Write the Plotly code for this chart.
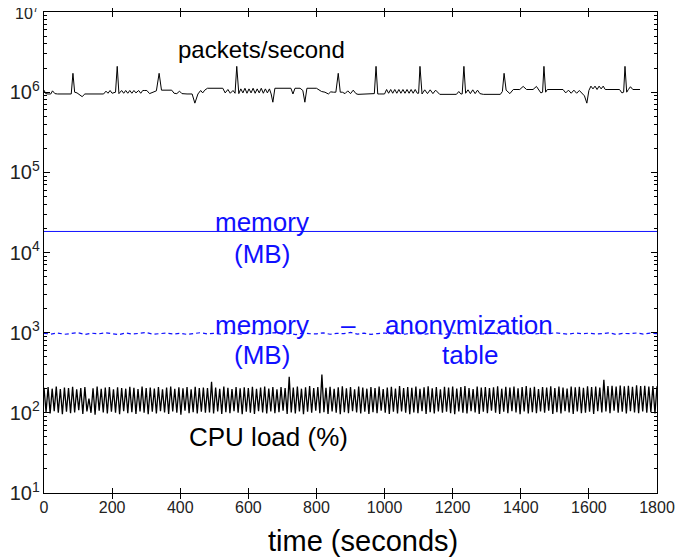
import plotly.graph_objects as go

# ---------------- data ----------------
# packets/second: polyline vertices (time s, packets/s)
pkt_t = [0, 5, 12, 20, 25, 32, 40, 80, 85, 90, 97, 104, 112, 120, 175, 182, 188, 194, 200, 210, 215, 220,
         228, 234, 240, 246, 252, 258, 264, 270, 278, 284, 290, 296, 302, 310, 330, 338, 345, 375, 382, 390,
         398, 405, 412, 420, 435, 443, 452, 460, 466, 472, 480, 487, 525, 532, 540, 547, 555, 561, 566, 572,
         578, 584, 590, 596, 602, 608, 614, 620, 626, 632, 638, 644, 650, 656, 662, 667, 672, 678, 725, 731,
         737, 743, 752, 760, 766, 772, 800, 815, 825, 835, 842, 850, 857, 864, 870, 876, 884, 892, 900, 908,
         916, 922, 966, 970, 975, 980, 986, 1000, 1006, 1012, 1018, 1024, 1030, 1036, 1042, 1048, 1054, 1060,
         1066, 1072, 1078, 1084, 1090, 1096, 1100, 1104, 1110, 1118, 1126, 1134, 1142, 1150, 1162, 1211, 1218,
         1224, 1228, 1233, 1238, 1245, 1252, 1259, 1266, 1273, 1280, 1290, 1340, 1346, 1351, 1357, 1368, 1378,
         1397, 1407, 1417, 1436, 1446, 1459, 1464, 1468, 1473, 1478, 1524, 1532, 1540, 1548, 1556, 1564, 1572,
         1580, 1587, 1594, 1600, 1606, 1612, 1618, 1624, 1630, 1636, 1642, 1648, 1656, 1664, 1690, 1697, 1702,
         1706, 1711, 1716, 1722, 1729, 1736, 1750]
pkt_v = [1.06e6, 0.96e6, 0.95e6, 0.95e6, 1.04e6, 0.96e6, 0.95e6, 0.95e6, 1.72e6, 1.0e6, 0.98e6, 0.93e6,
         0.88e6, 0.95e6, 0.95e6, 1.03e6, 0.97e6, 1.05e6, 0.97e6, 1.0e6, 2.1e6, 0.96e6,
         1.05e6, 0.97e6, 1.05e6, 0.97e6, 1.05e6, 0.97e6, 1.05e6, 0.98e6, 1.05e6, 0.97e6, 1.05e6, 1.05e6,
         1.05e6, 0.96e6, 1.04e6, 1.72e6, 1.06e6, 1.06e6, 0.97e6, 0.96e6,
         1.03e6, 0.96e6, 0.95e6, 0.95e6, 0.95e6, 0.73e6, 0.95e6, 1.05e6, 0.98e6, 1.06e6, 1.12e6, 1.12e6,
         1.12e6, 0.98e6, 1.08e6, 0.97e6, 1.05e6, 0.97e6, 2.1e6, 0.96e6,
         1.1e6, 0.98e6, 1.12e6, 0.97e6, 1.1e6, 0.98e6, 1.12e6, 0.97e6, 1.1e6, 0.98e6, 1.12e6, 0.97e6, 1.1e6,
         0.98e6, 1.1e6, 0.95e6, 0.75e6, 1.12e6, 1.12e6, 0.95e6,
         1.12e6, 1.12e6, 1.12e6, 1.05e6, 0.75e6, 1.12e6, 1.12e6, 1.02e6, 1.0e6, 0.95e6, 1.01e6, 1.0e6, 1.0e6,
         1.72e6, 1.0e6, 1.0e6, 0.96e6, 1.04e6, 0.96e6, 1.06e6,
         0.96e6, 0.94e6, 0.94e6, 0.96e6, 2.1e6, 0.95e6, 0.95e6, 0.95e6, 1.08e6, 0.97e6, 1.08e6, 0.97e6, 1.08e6,
         0.97e6, 1.08e6, 0.97e6, 1.08e6, 0.97e6,
         1.08e6, 0.97e6, 1.08e6, 0.97e6, 1.08e6, 0.97e6, 0.97e6, 2.1e6, 0.95e6, 1.07e6, 0.96e6, 1.07e6,
         0.96e6, 1.06e6, 0.94e6, 0.94e6, 1.02e6,
         0.95e6, 0.95e6, 2.1e6, 0.97e6, 1.07e6, 0.96e6, 1.07e6, 0.96e6, 1.06e6, 0.96e6, 0.94e6, 0.94e6,
         1.02e6, 1.72e6, 1.06e6, 0.96e6, 1.08e6,
         1.08e6, 1.18e6, 1.08e6, 1.08e6, 1.18e6, 0.98e6, 1.0e6, 2.1e6, 1.0e6, 1.08e6, 1.08e6, 0.98e6, 1.06e6,
         0.97e6, 1.06e6, 0.97e6, 1.05e6,
         0.98e6, 0.9e6, 0.73e6, 1.05e6, 1.19e6, 1.1e6, 1.19e6, 1.08e6, 1.19e6, 1.1e6, 1.19e6, 1.08e6, 1.08e6,
         1.08e6, 1.08e6, 0.98e6, 1.0e6,
         2.1e6, 1.0e6, 1.08e6, 1.17e6, 1.08e6, 1.08e6, 1.08e6]

# memory (MB), flat
mem_t = [0, 1800]
mem_v = [18300, 18300]

# memory - anonymization table (MB), sampled every 20 s
anon_t = list(range(0, 1801, 20))
anon_v = [980, 960, 990, 955, 975, 1000, 950, 985, 965, 995,
          970, 945, 990, 960, 980, 1005, 955, 975, 990, 960,
          985, 950, 970, 1000, 965, 980, 955, 995, 970, 960,
          990, 975, 950, 985, 1000, 960, 975, 945, 990, 970,
          965, 995, 955, 980, 970, 1005, 960, 985, 950, 975,
          990, 965, 980, 955, 1000, 970, 960, 985, 975, 950,
          995, 965, 980, 1000, 955, 975, 990, 960, 970, 985,
          950, 995, 965, 980, 960, 1000, 975, 955, 990, 970,
          985, 960, 975, 995, 950, 980, 970, 990, 960, 985,
          975]

# CPU load (%), sampled every 6 s
cpu_t = list(range(0, 1801, 6))
cpu_v = [205, 102, 210, 98, 200, 105, 212, 100, 198, 96, 207, 103, 203, 99, 211, 101, 196, 108, 204, 97,
         209, 104, 150, 100, 202, 95, 213, 106, 199, 101, 206, 98, 210, 103, 197, 100, 208, 96, 204, 105,
         200, 99, 211, 102, 205, 97, 198, 104, 212, 100, 203, 96, 207, 103, 201, 98, 209, 105, 196, 101,
         206, 97, 213, 104, 199, 100, 208, 95, 202, 106, 210, 99, 197, 102, 211, 98, 204, 103, 207, 100,
         203, 101, 243, 98, 206, 104, 199, 97, 212, 102, 205, 99, 198, 105, 210, 100, 202, 96, 208, 103,
         204, 100, 211, 97, 199, 105, 207, 101, 213, 98, 201, 104, 209, 99, 196, 102, 210, 106, 203, 97,
         281, 101, 206, 98, 212, 104, 200, 96, 208, 103, 215, 100, 203, 106, 210, 99, 300, 102, 205, 97,
         211, 104, 199, 100, 208, 96, 214, 102, 202, 99, 209, 105, 197, 101, 212, 98, 206, 103, 200, 97,
         210, 102, 204, 99, 213, 106, 198, 100, 207, 97, 211, 103, 201, 98, 215, 104, 203, 100, 209, 96,
         205, 101, 212, 99, 199, 105, 208, 97, 214, 102, 202, 98, 210, 104, 197, 100, 211, 103, 206, 99,
         213, 96, 201, 104, 209, 100, 215, 98, 204, 105, 198, 101, 212, 97, 207, 103, 210, 99, 203, 106,
         208, 100, 214, 97, 200, 103, 211, 99, 206, 105, 213, 101, 202, 96, 209, 104, 215, 98, 205, 102,
         211, 99, 198, 104, 210, 100, 207, 106, 214, 97, 203, 102, 212, 98, 206, 105, 200, 101, 213, 97,
         208, 104, 211, 99, 205, 100, 214, 103, 209, 97, 212, 105, 207, 101, 258, 104, 216, 99, 218, 106,
         212, 100, 219, 103, 214, 98, 217, 105, 211, 101, 220, 99, 215, 104, 218, 100, 213, 102, 216, 98,
         214]

x_ticks = [0, 200, 400, 600, 800, 1000, 1200, 1400, 1600, 1800]
y_ticks = [10, 100, 1000, 10000, 100000, 1000000, 10000000]
minor_mult = [2, 3, 4, 5, 6, 7, 8, 9]

# ---------------- figure ----------------
FONT = "Liberation Sans, Arial, Helvetica, sans-serif"
BLUE = "#1010ff"
TICK_COLOR = "#222222"
minor_vals = [d * m for d in y_ticks[:-1] for m in minor_mult]
Y_RANGE = [0.9995, 7.0005]

fig = go.Figure()
fig.add_trace(go.Scatter(x=cpu_t, y=cpu_v, mode="lines", line=dict(color="black", width=1.3)))
fig.add_trace(go.Scatter(x=anon_t, y=anon_v, mode="lines", line=dict(color=BLUE, width=1.2, dash="4px,3px")))
fig.add_trace(go.Scatter(x=mem_t, y=mem_v, mode="lines", line=dict(color=BLUE, width=1)))
fig.add_trace(go.Scatter(x=pkt_t, y=pkt_v, mode="lines", line=dict(color="black", width=1)))
# empty traces on overlay axes that only carry extra tick marks
for ax in ["y2", "y3", "y4"]:
    fig.add_trace(go.Scatter(x=[], y=[], mode="markers", yaxis=ax, hoverinfo="skip"))

def ann(text, x, y, size, color, yref="y"):
    fig.add_annotation(text=text, x=x, y=y, xref="x", yref=yref, showarrow=False,
                       xanchor="center", yanchor="middle",
                       font=dict(family=FONT, size=size, color=color))

ann("packets/second", 640, 6.538, 24, "black")
ann("memory", 640, 4.381, 26, BLUE)
ann("(MB)", 640, 3.981, 26, BLUE)
ann("memory", 640, 3.096, 26, BLUE)
ann("–", 893, 3.096, 26, BLUE)
ann("anonymization", 1248, 3.096, 26, BLUE)
ann("(MB)", 640, 2.722, 26, BLUE)
ann("table", 1251, 2.722, 26, BLUE)
ann("CPU load (%)", 658, 1.699, 26, "black")
ann("time (seconds)", 937, -0.0998, 29, "black", yref="paper")
# top decade label, which the axis leaves out at the very edge of its range
fig.add_annotation(text="10<sup>7</sup>", x=0, y=1, xref="paper", yref="paper",
                   xanchor="right", yanchor="middle", xshift=-3, showarrow=False,
                   font=dict(family=FONT, size=16, color=TICK_COLOR))

def tick_axis(side, **kw):
    d = dict(type="log", range=Y_RANGE, overlaying="y", side=side,
             showticklabels=False, showgrid=False, zeroline=False, automargin=False,
             showline=False, ticks="inside", tickcolor="black")
    d.update(kw)
    return d

# the page body has an 8px margin, so the figure is drawn 8px in from the corner
fig.update_layout(
    width=689, height=550,
    margin=dict(l=36, r=40, t=4, b=65),
    paper_bgcolor="white", plot_bgcolor="white",
    showlegend=False,
    font=dict(family=FONT, size=16, color=TICK_COLOR),
    xaxis=dict(
        range=[0, 1800], tickvals=x_ticks, ticktext=[str(v) for v in x_ticks],
        showgrid=False, zeroline=False, automargin=False,
        showline=True, linecolor="black", linewidth=1, mirror="allticks",
        ticks="inside", ticklen=5, tickcolor="black",
        tickfont=dict(family=FONT, size=16, color=TICK_COLOR),
    ),
    yaxis=dict(
        type="log", range=Y_RANGE, dtick=1, exponentformat="power",
        labelalias={"10": "10<sup>1</sup>"},
        showgrid=False, zeroline=False, automargin=False,
        showline=True, linecolor="black", linewidth=1, mirror=True,
        ticks="inside", ticklen=6, tickcolor="black",
        tickfont=dict(family=FONT, size=16, color=TICK_COLOR),
    ),
    yaxis2=tick_axis("left", tickmode="array", tickvals=minor_vals, ticklen=3),
    yaxis3=tick_axis("right", tickmode="array", tickvals=y_ticks, ticklen=6),
    yaxis4=tick_axis("right", tickmode="array", tickvals=minor_vals, ticklen=3),
)

fig.write_html("out.html")
